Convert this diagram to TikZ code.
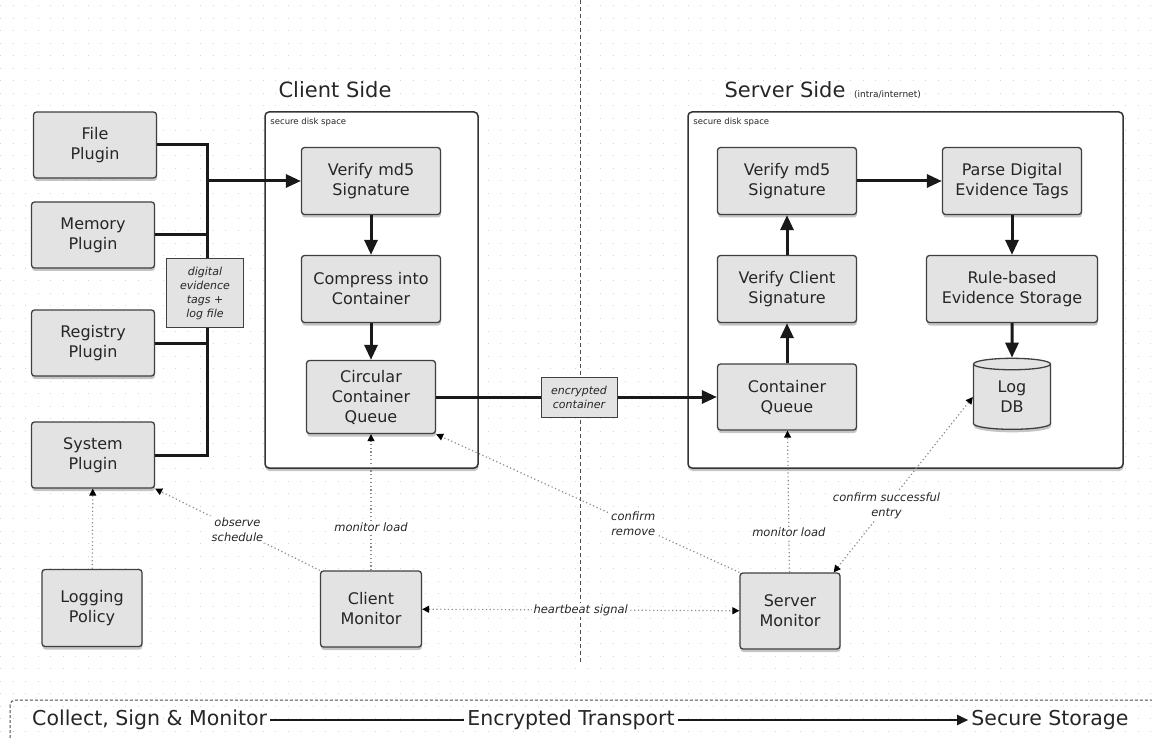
\documentclass[tikz,border=0pt]{standalone}
\usepackage{fontspec}
\setmainfont{DejaVu Sans}
\usetikzlibrary{positioning}
\usetikzlibrary{arrows.meta}
\usetikzlibrary{shapes.geometric}
\usetikzlibrary{shadows}

\begin{document}
\begin{tikzpicture}[
        x=1pt, y=-1pt,
        node distance=108pt,
        every node/.style={text=black!85},
        boxshadow/.style={drop shadow={shadow xshift=0.5pt, shadow yshift=-3pt, opacity=0.45}},
        procbox/.style={rectangle, rounded corners=3pt, draw=black!75, line width=1.3pt, fill=black!11, align=center, inner sep=0pt, minimum width=139pt, minimum height=67pt, font=\fontsize{16}{20}\selectfont, boxshadow},
        plugbox/.style={procbox, minimum width=123pt, minimum height=66pt},
        dbnode/.style={cylinder, shape border rotate=90, aspect=0.4, draw=black!75, line width=1.3pt, fill=black!11, align=center, inner sep=0pt, minimum width=77pt, minimum height=71pt, font=\fontsize{16}{20}\selectfont, boxshadow},
        diskbox/.style={rectangle, rounded corners=4pt, draw=black!80, line width=1.5pt, fill=white, boxshadow},
        disklabel/.style={anchor=north west, inner sep=0pt, font=\fontsize{8.5}{10}\selectfont},
        tagbox/.style={rectangle, draw=black!75, line width=1pt, fill=black!11, align=center, inner sep=0pt, font=\fontsize{11}{14}\selectfont\itshape},
        note/.style={fill=white, inner sep=1.5pt, align=center, font=\fontsize{11.5}{15}\selectfont\itshape},
        pipe/.style={line width=3pt, black!90},
        flow/.style={pipe, -{Triangle[length=15pt,width=13pt]}},
        watch/.style={black!45, line width=1.2pt, dash pattern=on 1.2pt off 2.6pt},
        wtip/.tip={Triangle[length=7pt,width=7pt,color=black]},
        gridline/.style={black!16, line width=1pt, dash pattern=on 1pt off 11.5pt},
        divider/.style={black!70, line width=1pt, dash pattern=on 4pt off 3pt},
        banner/.style={black!70, line width=1pt, dash pattern=on 3pt off 2pt, rounded corners=5pt},
        stage/.style={inner sep=3pt, font=\fontsize{20.5}{24}\selectfont},
        stageline/.style={line width=2pt, black!90}
    ]

        \useasboundingbox (0,0) rectangle (1152,738);
        \fill[white] (0,0) rectangle (1152,738);
        \foreach \gy in {6,18.5,...,738}
            \draw[gridline] (0,\gy) -- (1152,\gy);

        \draw[divider] (580,0) -- (580,662);

        \node[font=\fontsize{21}{24}\selectfont] (CliTitle) at (335,90) {Client Side};
        \node[font=\fontsize{21}{24}\selectfont] (SrvTitle) at (785,90) {Server Side};
        \node[font=\fontsize{9}{10}\selectfont, anchor=base west, inner sep=0pt] (SrvScope) at ([xshift=5pt]SrvTitle.base east) {(intra/internet)};

        \node[diskbox, minimum width=213pt, minimum height=356pt] (CliDisk) at (371.5,290) {};
        \node[diskbox, minimum width=435pt, minimum height=356pt] (SrvDisk) at (905.5,290) {};
        \node[disklabel] at ([shift={(6pt,-7pt)}]CliDisk.north west) {secure disk space};
        \node[disklabel] at ([shift={(6pt,-7pt)}]SrvDisk.north west) {secure disk space};

        \node[plugbox] (FilePlug) at (95,145) {File\\Plugin};
        \node[plugbox] (MemPlug) at (93,235) {Memory\\Plugin};
        \node[plugbox] (RegPlug) at (93,343) {Registry\\Plugin};
        \node[plugbox] (SysPlug) at (93,455) {System\\Plugin};
        \node[procbox, minimum width=100pt, minimum height=77pt] (LogPolicy) at (92,608) {Logging\\Policy};

        \node[procbox] (CliVerify) at (371,181) {Verify md5\\Signature};
        \node[procbox] (CliCompress) [below of=CliVerify] {Compress into\\Container};
        \node[procbox, minimum width=129pt, minimum height=73pt] (CliQueue) [below of=CliCompress] {Circular\\Container\\Queue};
        \node[procbox, minimum width=101pt, minimum height=76pt] (CliMon) at (371,609) {Client\\Monitor};

        \node[procbox, minimum height=66pt] (SrvQueue) at (787,397) {Container\\Queue};
        \node[procbox] (SrvClientSig) [above of=SrvQueue] {Verify Client\\Signature};
        \node[procbox] (SrvVerify) [above of=SrvClientSig] {Verify md5\\Signature};
        \node[procbox] (ParseTags) [node distance=225pt, right of=SrvVerify] {Parse Digital\\Evidence Tags};
        \node[procbox, minimum width=171pt] (RuleStore) [below of=ParseTags] {Rule-based\\Evidence Storage};
        \node[dbnode] (LogDB) [below of=RuleStore] {Log\\DB};
        \node[procbox, minimum width=100pt, minimum height=76pt] (SrvMon) at (790,611) {Server\\Monitor};

        \coordinate (BusTop) at (207,145);
        \coordinate (BusBot) at (207,455);
        \coordinate (BusOut) at (207,181);
        \draw[pipe] (FilePlug.east) -- (FilePlug.east -| BusTop) -- (BusBot) -- (SysPlug.east);
        \draw[pipe] (MemPlug.east) -- (MemPlug.east -| BusTop);
        \draw[pipe] (RegPlug.east) -- (RegPlug.east -| BusTop);
        \draw[flow] (BusOut) -- (CliVerify.west);
        \node[tagbox, minimum width=77pt, minimum height=68pt] (Tags) at (205,293) {digital\\evidence\\tags +\\log file};

        \draw[flow] (CliVerify) -- (CliCompress);
        \draw[flow] (CliCompress) -- (CliQueue);
        \node[tagbox, minimum width=76pt, minimum height=40pt] (EncBox) at (579,397) {encrypted\\container};
        \draw[pipe] (CliQueue.east) -- (EncBox.west);
        \draw[flow] (EncBox.east) -- (SrvQueue.west);
        \draw[flow] (SrvQueue) -- (SrvClientSig);
        \draw[flow] (SrvClientSig) -- (SrvVerify);
        \draw[flow] (SrvVerify) -- (ParseTags);
        \draw[flow] (ParseTags) -- (RuleStore);
        \draw[flow] (RuleStore) -- (LogDB);

        \draw[watch, -wtip] (LogPolicy) -- (SysPlug);
        \draw[watch, -wtip] (CliMon.north west) -- node[note, pos=0.5] {observe\\schedule} (SysPlug.south east);
        \draw[watch, -wtip] (CliMon) -- node[note, pos=0.32] {monitor load} (CliQueue);
        \draw[watch, wtip-wtip] (CliMon) -- node[note] {heartbeat signal} (SrvMon);
        \draw[watch, -wtip] (SrvMon.north west) -- node[note, pos=0.35] {confirm\\remove} (CliQueue.south east);
        \draw[watch, -wtip] (SrvMon) -- node[note, pos=0.28] {monitor load} (SrvQueue);
        \draw[watch, wtip-wtip] ([xshift=-7pt]SrvMon.north east) -- node[note, pos=0.38] {confirm successful\\entry} (LogDB.west);

        \draw[banner] (10,700) rectangle (1170,760);
        \node[stage, anchor=west] (Collect) at (29,720) {Collect, Sign \& Monitor};
        \node[stage] (Transport) at (571,720) {Encrypted Transport};
        \node[stage] (Storage) at (1050,720) {Secure Storage};
        \draw[stageline] (Collect) -- (Transport);
        \draw[stageline, -{Triangle[length=11pt,width=10pt]}] (Transport) -- (Storage);

    \end{tikzpicture}
\end{document}
